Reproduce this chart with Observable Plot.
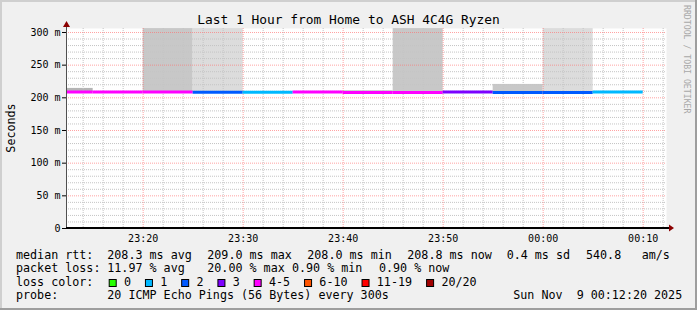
<!DOCTYPE html>
<html><head><meta charset="utf-8">
<script src="https://cdn.jsdelivr.net/npm/d3@7"></script>
<script src="https://cdn.jsdelivr.net/npm/@observablehq/plot@0.6"></script>
<style>
html,body{margin:0;padding:0;background:#f0f0f0;}
#chart svg{display:block;}
</style></head><body><div id="chart"></div>
<script>
// ---- data ----
const title = "Last 1 Hour from Home to ASH 4C4G Ryzen";
const yLabel = "Seconds";
const watermark = "RRDTOOL / TOBI OETIKER";
const rangeStart = "2025-11-08T23:12:20Z";
const rangeEnd = "2025-11-09T00:12:20Z";
const binStarts = [
  "2025-11-08T23:10:00Z","2025-11-08T23:15:00Z","2025-11-08T23:20:00Z","2025-11-08T23:25:00Z",
  "2025-11-08T23:30:00Z","2025-11-08T23:35:00Z","2025-11-08T23:40:00Z","2025-11-08T23:45:00Z",
  "2025-11-08T23:50:00Z","2025-11-08T23:55:00Z","2025-11-09T00:00:00Z","2025-11-09T00:05:00Z"
];
const binMinutes = 5;
const medianMs   = [208.8, 208.8, 208.8, 208.4, 208.4, 209.0, 208.1, 208.1, 208.8, 208.0, 208.0, 208.8];
const lostPings  = [4, 4, 4, 2, 1, 4, 4, 4, 3, 2, 2, 1];
const smokeTopMs = [214.4, null, 306, 306, null, null, 210.6, 306, null, 220.5, 306, null];
const smokeDensity = [3, 0, 2, 1, 0, 0, 3, 2, 0, 2, 1, 0];
const yTicks = [0, 50, 100, 150, 200, 250, 300];
const lossLabels = ["0", "1", "2", "3", "4-5", "6-10", "11-19", "20/20"];
const lossUpper  = [0, 1, 2, 3, 5, 10, 19, 20];
const lossColors = ["#26ff00", "#00b8ff", "#0059ff", "#7e00ff", "#ff00ff", "#ff5500", "#ff0000", "#a00000"];
const rttLabel = "median rtt:";
const rttStats = ["208.3 ms avg", "209.0 ms max", "208.0 ms min", "208.8 ms now", "0.4 ms sd", "540.8", "am/s"];
const lossLabel = "packet loss:";
const lossStats = ["11.97 % avg", "20.00 % max", "0.90 % min", "0.90 % now"];
const lossColorLabel = "loss color:";
const probeLabel = "probe:";
const probeText = "20 ICMP Echo Pings (56 Bytes) every 300s";
const stamp = "Sun Nov  9 00:12:20 2025";

// ---- build ----
const shade = {1: "#dcdcdc", 2: "#c8c8c8", 3: "#b4b4b4"};
const lossColor = n => lossColors[lossUpper.findIndex(u => n <= u)];
const bins = binStarts.map((s, i) => {
  const a = new Date(s);
  return {x1: a, x2: new Date(+a + binMinutes * 60000), median: medianMs[i], lost: lostPings[i], top: smokeTopMs[i], dens: smokeDensity[i]};
});
const x0 = new Date(rangeStart), x1 = new Date(rangeEnd);
const majorX = d3.utcMinute.every(10).range(x0, x1);
const minorX = d3.utcMinute.every(2).range(x0, x1).filter(d => d.getUTCMinutes() % 10 !== 0);
const majorY = yTicks.filter(v => v > 0);
const minorY = d3.range(10, 306, 10).filter(v => v % 50 !== 0);
const FONT = "'DejaVu Sans Mono', monospace";

const plot = Plot.plot({
  width: 697, height: 310,
  marginLeft: 66, marginRight: 31, marginTop: 28, marginBottom: 82,
  style: {background: "#f0f0f0", fontFamily: FONT, fontSize: "10px", color: "#000", overflow: "visible"},
  color: {type: "identity"},
  x: {type: "utc", domain: [x0, x1], ticks: majorX, tickFormat: d3.utcFormat("%H:%M"), tickSize: 0, tickPadding: 6, label: null},
  y: {domain: [0, 306.1], ticks: yTicks, tickFormat: d => d === 0 ? "0" : `${d} m`, tickSize: 4, tickPadding: 2, label: null},
  marks: [
    Plot.frame({fill: "white"}),
    Plot.rectY(bins.filter(d => d.top != null), {x1: "x1", x2: "x2", y1: "median", y2: "top", fill: d => shade[d.dens], clip: true}),
    Plot.ruleX(minorX, {stroke: "#c4c4c4", strokeDasharray: "1,1"}),
    Plot.ruleY(minorY, {stroke: "#c4c4c4", strokeDasharray: "1,1"}),
    Plot.ruleX(majorX, {stroke: "#ff7070", strokeOpacity: 0.65, strokeDasharray: "1,1"}),
    Plot.ruleY(majorY, {stroke: "#ff7070", strokeOpacity: 0.65, strokeDasharray: "1,1"}),
    Plot.ruleY(bins, {x1: "x1", x2: "x2", y: "median", stroke: d => lossColor(d.lost), strokeWidth: 3, clip: true})
  ]
});

const svg = d3.select(plot);
const L = 66, R = 666, T = 28, B = 228;
// axes
svg.append("line").attr("x1", L + 0.5).attr("x2", L + 0.5).attr("y1", B).attr("y2", 24).attr("stroke", "#505050");
svg.append("line").attr("x1", L).attr("x2", R + 3).attr("y1", B).attr("y2", B).attr("stroke", "#000").attr("stroke-width", 2);
svg.append("path").attr("d", `M${L - 3},${T - 1}L${L + 4},${T - 1}L${L + 0.5},${T - 7}Z`).attr("fill", "#8b0000");
svg.append("path").attr("d", `M${R + 3},${B - 3.5}L${R + 3},${B + 3.5}L${R + 8},${B}Z`).attr("fill", "#8b0000");

const txt = (x, y, s, size, opts = {}) => {
  const t = svg.append("text").attr("x", x).attr("y", y).text(s)
    .attr("font-family", FONT).attr("font-size", size).attr("fill", opts.fill || "#000")
    .attr("text-anchor", opts.anchor || "start")
    .attr("xml:space", "preserve").style("white-space", "pre");
  if (opts.transform) t.attr("transform", opts.transform).attr("x", 0).attr("y", 0);
  if (opts.dy) t.attr("dy", opts.dy);
  return t;
};
txt(348.5, 23.5, title, 12.9, {anchor: "middle"});
txt(0, 0, yLabel, 11.7, {anchor: "middle", transform: "translate(10.5,128) rotate(-90)", dy: "0.35em"});
txt(0, 0, watermark, 8.2, {fill: "#a8a8a8", transform: "translate(686.5,5) rotate(90)", dy: "0.35em"});

const LS = 11.7;
const rows = [258.7, 272.2, 285.7, 299.3];
txt(16, rows[0], rttLabel, LS);
[107.3, 207.3, 307.3, 407.3, 506.7, 586, 641.7].forEach((x, i) => txt(x, rows[0], rttStats[i], LS));
txt(16, rows[1], lossLabel, LS);
[107.3, 207.3, 292, 379].forEach((x, i) => txt(x, rows[1], lossStats[i], LS));
txt(16, rows[2], lossColorLabel, LS);
let bx = 108.7;
lossLabels.forEach((lab, i) => {
  svg.append("rect").attr("x", bx + 0.5).attr("y", 279.5).attr("width", 7).attr("height", 7)
    .attr("fill", lossColors[i]).attr("stroke", "#000");
  txt(bx + 15.3, rows[2], lab, LS);
  bx += 15 + (lab.length + 2) * 7.08;
});
txt(16, rows[3], probeLabel, LS);
txt(107.3, rows[3], probeText, LS);
txt(513.3, rows[3], stamp, LS);

// outer frame shading
svg.append("rect").attr("x", 0).attr("y", 0).attr("width", 697).attr("height", 2).attr("fill", "#cfcfcf");
svg.append("rect").attr("x", 0).attr("y", 0).attr("width", 2).attr("height", 310).attr("fill", "#cfcfcf");
svg.append("rect").attr("x", 0).attr("y", 308).attr("width", 697).attr("height", 2).attr("fill", "#9e9e9e");
svg.append("rect").attr("x", 695).attr("y", 0).attr("width", 2).attr("height", 310).attr("fill", "#9e9e9e");

document.getElementById("chart").appendChild(plot);
</script></body></html>
